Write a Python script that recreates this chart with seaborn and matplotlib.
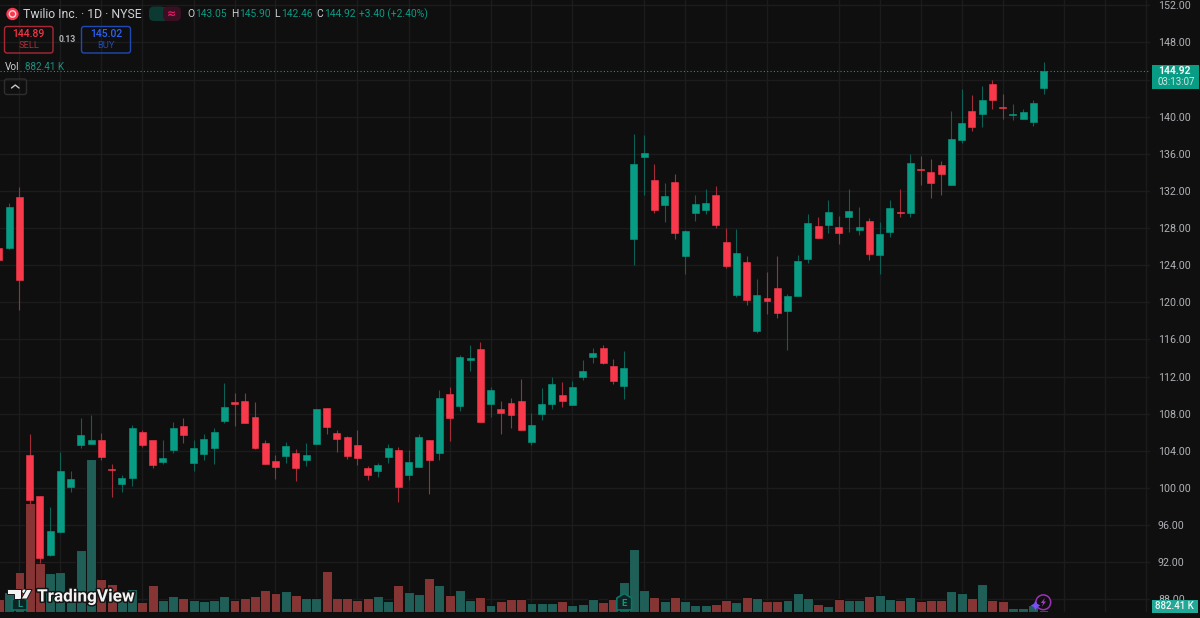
import numpy as np
import pandas as pd
import matplotlib
matplotlib.use("Agg")
import matplotlib.pyplot as plt
from matplotlib.patches import Rectangle, FancyBboxPatch, Circle, Polygon
import matplotlib.patheffects as pe
import seaborn as sns

# Daily session data for TWLO
opens = [125.88,125.88,131.38,103.51,99.12,92.77,95.28,100.06,104.62,104.76,105.13,102.04,100.42,101.10,105.99,
         105.13,102.79,104.08,106.67,102.72,103.68,104.33,107.21,109.22,109.40,107.61,104.84,102.90,103.44,103.73,
         103.00,104.70,108.64,105.88,105.52,104.59,102.11,101.79,103.36,104.08,101.36,102.22,105.19,103.79,110.09,
         108.82,113.78,114.97,109.01,108.53,109.12,109.33,104.98,107.96,109.07,110.01,108.90,111.98,114.14,115.04,
         113.17,110.98,126.85,135.62,133.15,130.45,132.93,125.02,129.59,129.95,131.56,126.50,120.75,124.34,116.94,
         120.46,121.51,119.03,120.68,124.70,128.25,128.30,128.08,129.22,127.79,128.79,125.13,127.54,129.76,129.59,
         134.33,134.04,134.79,132.67,137.49,140.65,140.32,143.49,141.01,140.21,139.78,139.46,143.05]
closes = [124.59,130.24,122.40,98.69,92.45,95.32,101.79,100.92,105.70,105.13,103.33,101.93,101.10,106.49,104.62,
          102.47,103.22,106.49,105.67,104.27,105.27,106.05,108.72,109.07,107.02,104.27,102.57,102.28,104.51,102.14,
          103.54,108.47,106.53,105.24,103.44,103.25,101.36,102.47,104.33,100.10,102.76,105.45,103.00,109.72,107.56,
          114.10,114.03,107.13,110.58,108.10,107.89,106.24,106.74,109.04,111.19,109.40,110.87,112.56,114.54,113.46,
          111.55,112.92,134.87,136.09,129.95,131.45,127.47,127.68,130.59,130.67,128.36,123.94,125.34,120.25,120.75,
          120.17,118.85,120.65,124.42,128.51,126.93,129.73,127.50,129.81,128.11,125.20,127.33,130.13,129.65,134.98,
          134.22,132.85,133.86,137.56,139.29,138.86,141.77,141.83,140.90,140.29,140.47,141.47,144.92]
highs = [126.40,130.67,132.39,105.81,99.13,97.97,103.90,101.85,107.53,107.85,105.91,102.57,101.42,106.78,106.24,
         105.13,105.19,107.10,107.53,105.13,105.77,106.49,111.27,110.26,110.19,109.22,105.19,103.54,104.95,104.16,
         104.80,108.53,108.64,106.24,105.59,106.24,102.36,102.72,104.70,104.41,104.08,105.81,105.19,110.52,110.87,
         114.32,115.40,115.72,110.84,109.36,109.65,111.70,108.04,110.76,111.98,111.44,111.55,113.75,115.04,115.40,
         113.86,114.78,138.14,138.03,134.87,132.82,133.86,127.76,131.56,132.21,132.50,128.00,127.93,125.02,122.51,
         123.23,125.02,120.89,125.10,129.51,129.22,131.02,129.27,132.21,130.24,129.05,128.62,131.02,132.21,135.98,
         135.76,135.41,135.22,140.65,142.95,142.34,143.31,143.95,142.45,141.40,140.86,141.77,145.90]
lows = [124.00,125.70,119.20,97.72,91.91,92.69,95.28,99.56,104.33,104.76,103.04,99.05,99.56,100.24,104.44,
        102.14,102.61,103.79,104.87,101.85,103.04,102.54,107.02,106.70,107.02,104.19,102.57,100.99,102.72,100.78,
        102.39,104.70,105.81,103.87,103.08,102.47,100.85,101.21,102.65,98.51,100.85,102.22,99.31,103.00,105.05,
        108.29,112.60,107.13,107.67,105.81,106.49,106.24,104.62,107.28,108.47,108.72,108.90,111.63,113.46,113.38,
        111.23,109.58,124.02,131.56,129.65,128.65,126.82,123.08,128.79,129.51,128.04,123.73,120.60,119.74,116.72,
        118.77,118.27,114.86,120.68,124.27,126.93,127.44,126.31,127.61,127.28,124.59,123.08,127.07,129.22,129.22,
        132.64,131.27,131.56,132.67,137.20,138.49,138.86,140.83,139.75,139.64,139.72,139.00,142.46]
volumes_m = [5.98,8.80,17.86,47.96,21.69,17.16,17.86,9.68,27.28,67.32,14.65,12.32,8.36,10.12,4.53,
             11.88,5.54,7.30,6.29,5.28,4.84,5.28,7.04,5.54,6.29,7.04,9.81,8.36,9.37,7.61,
             6.16,6.16,18.04,6.16,6.16,5.28,6.16,7.35,4.84,11.88,9.11,7.92,14.96,12.19,7.61,
             9.99,5.41,6.91,3.39,4.84,5.85,5.85,4.09,4.09,4.09,4.84,3.39,3.83,5.85,4.40,
             5.85,13.20,27.85,9.99,6.91,4.84,6.60,4.84,3.39,3.39,3.83,5.41,4.40,6.91,6.16,
             4.84,4.84,5.41,8.67,6.16,3.65,2.77,5.85,5.41,5.41,7.35,7.61,5.85,5.28,6.91,
             4.84,5.41,5.41,9.37,8.67,6.16,12.45,5.41,5.15,1.76,2.07,3.21,0.88241]
price_ticks = [152, 148, 144, 140, 136, 132, 128, 124, 120, 116, 112, 108, 104, 100, 96, 92, 88]
week_marks = [2, 6, 10, 14, 19, 23, 27, 31, 35, 40, 44, 48, 52, 56, 63, 67, 71, 75, 82, 86, 90, 94, 98, 104, 108, 112]

BG = "#0f0f0f"
GRID = "#1c1c1c"
UP, DOWN = "#089c84", "#f8394c"
WICK_UP, WICK_DOWN = "#0b6155", "#a32c3a"
VOL_UP, VOL_DOWN = "#1f5f58", "#863534"
TEXT = "#c4c6cc"

sns.set_theme(style="darkgrid", rc={
    "figure.facecolor": BG, "axes.facecolor": BG, "grid.color": GRID, "grid.linewidth": 1.0,
    "axes.edgecolor": BG, "text.color": TEXT,
})
plt.rcParams["font.family"] = ["Roboto", "DejaVu Sans"]


def pt(px):
    return px * 0.72


W, H = 1200, 618
fig = plt.figure(figsize=(W / 100, H / 100), dpi=100, facecolor=BG)
pane = [0, 1 - 612.3 / H, 1150 / W, 612.3 / H]
time_span = (0.0977, 112.4)
price_span = (152.575 - 612.3 * 0.10776, 152.575)

days = np.arange(len(closes))
df = pd.DataFrame({"day": days, "open": opens, "close": closes, "high": highs, "low": lows,
                   "volume": volumes_m})
df["dir"] = np.where(df["close"] >= df["open"], "up", "down")

# Back pane: price scale and the grid, below everything else.
# The 144 level sits under the last-price tag, so it carries no label.
ax_grid = fig.add_axes(pane, zorder=0)
ax_grid.set_xlim(time_span)
ax_grid.set_ylim(price_span)
ax_grid.set_xticks(week_marks)
ax_grid.set_yticks(price_ticks)
ax_grid.set_yticklabels(["" if v == 144 else f"{v:.2f}" for v in price_ticks], fontsize=pt(10.6), color="#b0b2b7")
ax_grid.yaxis.tick_right()
ax_grid.tick_params(axis="y", length=0, pad=pt(8))
ax_grid.tick_params(axis="x", length=0, labelbottom=False)
ax_grid.grid(True, color=GRID, lw=1.0)
for s in ax_grid.spines.values():
    s.set_visible(False)

# Volume bars over the grid, sharing the time scale
ax_vol = fig.add_axes(pane, zorder=1)
ax_vol.patch.set_alpha(0)
sns.barplot(data=df, x="day", y="volume", hue="dir", hue_order=["up", "down"],
            palette={"up": VOL_UP, "down": VOL_DOWN}, native_scale=True, dodge=False,
            width=0.97, saturation=1, legend=False, errorbar=None,
            edgecolor=BG, linewidth=0.75, ax=ax_vol)
ax_vol.set_xlim(time_span)
ax_vol.set_ylim(0, 269.4)
ax_vol.axis("off")

# Candles on top
ax = fig.add_axes(pane, zorder=2)
ax.patch.set_alpha(0)
ax.set_xlim(time_span)
ax.set_ylim(price_span)
ax.axis("off")
up = df["close"] >= df["open"]
ax.vlines(df["day"], df["low"], df["high"], colors=np.where(up, WICK_UP, WICK_DOWN), lw=0.8, zorder=2)
lo = df[["open", "close"]].min(axis=1)
hi = df[["open", "close"]].max(axis=1)
body_colors = np.where(up, UP, DOWN).tolist()
ax.bar(df["day"], hi - lo, bottom=lo, width=0.68, color=body_colors, edgecolor=body_colors, lw=0.4, zorder=3)
ax.axhline(closes[-1], color="#0a9b84", lw=0.8, ls=(0, (1, 2)), zorder=1.5)

# Chart furniture drawn in pixel space over both panes
ui = fig.add_axes([0, 0, 1, 1], zorder=5)
ui.set_xlim(0, W)
ui.set_ylim(H, 0)
ui.axis("off")
ui.patch.set_alpha(0)


def label(x, y, s, color=TEXT, size=11, ha="left", weight="normal", **kw):
    return ui.text(x, y, s, color=color, fontsize=pt(size), ha=ha, va="center", fontweight=weight, **kw)


def box(x0, y0, x1, y1, edge, face="none", lw=1.0, r=2.5, z=2):
    ui.add_patch(FancyBboxPatch((x0, y0), x1 - x0, y1 - y0, boxstyle=f"round,pad=0,rounding_size={r}",
                                fc=face, ec=edge, lw=lw, zorder=z))


# Legend header
ui.add_patch(Circle((12.5, 14), 6.2, fc="#f7384f", ec="none"))
ui.add_patch(Circle((12.5, 14), 3.2, fc="none", ec="#ffd7db", lw=1.0))
label(23, 14, "Twilio Inc. · 1D · NYSE", "#cfd1d6", 12.3)
box(149, 6.5, 165, 21, "none", "#0c3a33", r=5)
box(163, 6.5, 181, 21, "none", "#3b0f22", r=5)
ui.add_patch(Rectangle((160, 6.5), 5, 14.5, fc="#0c3a33", ec="none"))
ui.add_patch(Rectangle((165, 6.5), 5, 14.5, fc="#3b0f22", ec="none"))
ui.add_patch(Circle((158, 13.7), 2.9, fc="#089c84", ec="none"))
label(172, 13.5, "≈", "#e01f6a", 11, ha="center", family="DejaVu Sans", weight="bold")

for x, s, c in [(187, "O", "#cfd1d6"), (195, "143.05", UP), (231, "H", "#cfd1d6"), (239, "145.90", UP),
                (274, "L", "#cfd1d6"), (281, "142.46", UP), (316, "C", "#cfd1d6"), (324, "144.92", UP),
                (359, "+3.40 (+2.40%)", UP)]:
    label(x, 14, s, c, 10.2)

box(4.5, 26.5, 53, 53, "#a82836", lw=1.0)
label(28.8, 34.2, "144.89", "#f23645", 10.4, ha="center", weight="medium")
label(28.8, 45.6, "SELL", "#b32a38", 9.4, ha="center")
label(67, 39.5, "0.13", "#b0b2b7", 8.6, ha="center", weight="bold")
box(81.5, 26.5, 130.5, 53, "#1f49b5", lw=1.0)
label(106, 34.2, "145.02", "#2c62f5", 10.4, ha="center", weight="medium")
label(106, 45.6, "BUY", "#1f49b5", 9.4, ha="center")

label(5, 66.5, "Vol", "#cfd1d6", 10)
label(25, 66.5, "882.41 K", "#1f8f80", 9.9)
box(4.5, 79, 26.5, 94.5, "#2e2e2e", lw=1.0)
ui.plot([11.5, 15.3, 19], [88, 85, 88], color="#c4c6cc", lw=1.0, solid_capstyle="round")

# Last price and last volume tags
ui.add_patch(Rectangle((1151.5, 64.5), 47.5, 24.5, fc=UP, ec="none", zorder=4))
label(1158, 71.5, "144.92", "#f4f6f6", 10.2, weight="bold", zorder=5)
label(1158, 82.3, "03:13:07", "#c7e8e2", 9.8, zorder=5)
ui.add_patch(Rectangle((1151.5, 599.7), 46, 12.8, fc="#22a896", ec="none", zorder=4))
label(1174.5, 606.2, "882.41 K", "#f4f6f6", 9.8, ha="center", weight="medium", zorder=5)

# Session event markers
for (x0, x1, y0, y1, s) in [(616.8, 631.6, 593.5, 610, "E"), (12, 27, 595.5, 610, "L")]:
    xm = (x0 + x1) / 2
    ui.add_patch(Polygon([(xm, y0), (x1, y0 + 4.5), (x1, y1), (x0, y1), (x0, y0 + 4.5)], closed=True,
                         fc="#0f2422", ec="#0a7566", lw=1.2, joinstyle="round", zorder=2))
    label(xm, (y0 + y1) / 2 + 1.5, s, "#0a9b84", 9.5, ha="center", weight="bold", zorder=3)

# Branding
halo = [pe.withStroke(linewidth=2.2, foreground="#151515")]
label(37, 597, "TradingView", "#f3f3f3", 17.2, weight="bold", zorder=6).set_path_effects(halo)
for patch in (Polygon([(6.8, 589.3), (20.8, 589.3), (20.8, 599), (14, 599), (14, 593.8), (6.8, 593.8)], closed=True,
                      fc="#f3f3f3", ec="#151515", lw=0.7, zorder=6),
              Circle((24.2, 591.4), 2.3, fc="#f3f3f3", ec="#151515", lw=0.5, zorder=6),
              Polygon([(26.5, 589.5), (32, 589.5), (27, 599), (21, 599)], closed=True,
                      fc="#f3f3f3", ec="#151515", lw=0.7, zorder=6)):
    ui.add_patch(patch)

# Replay bolt badge beside the live bar
ui.add_patch(Circle((1043.3, 602.3), 7.4, fc="#0f0f0f", ec="#9a33b5", lw=1.1, zorder=6))
ui.add_patch(Polygon([(1045, 597.8), (1040.8, 603), (1043.2, 603), (1041.8, 606.8), (1046, 601.5), (1043.6, 601.5)],
                     closed=True, fc="#a63cc4", ec="none", zorder=7))
ui.scatter([1034.8], [605], marker=(4, 1, 0), s=48, color="#7a4dff", linewidths=0, zorder=8)

fig.savefig("out.png", dpi=100, facecolor=BG)
